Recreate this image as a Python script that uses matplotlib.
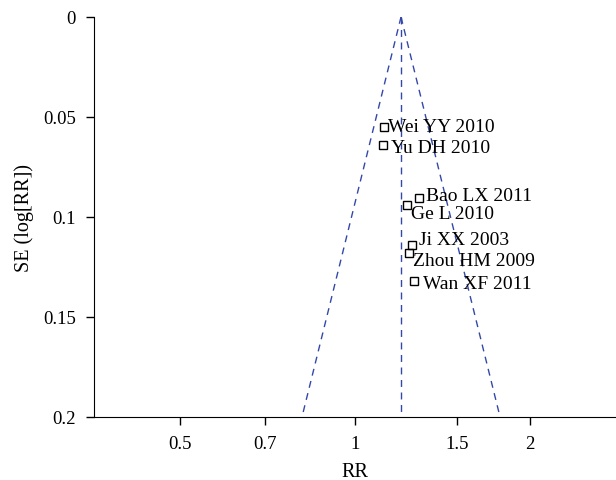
import numpy as np
import matplotlib
matplotlib.use("Agg")
import matplotlib.pyplot as plt
from matplotlib.ticker import FixedLocator, NullLocator

plt.rcParams['font.family'] = ['Liberation Serif', 'DejaVu Serif']

# study data
studies = ['Wei YY 2010', 'Yu DH 2010', 'Bao LX 2011', 'Ge L 2010',
           'Ji XX 2003', 'Zhou HM 2009', 'Wan XF 2011']
rr = [1.122, 1.116, 1.290, 1.227, 1.252, 1.237, 1.265]
se = [0.0549, 0.0638, 0.0907, 0.094, 0.1138, 0.1178, 0.1318]
# label offsets (points) relative to each marker
lab_dx = [3, 6, 5, 3, 5, 3, 6]
lab_dy = [0, -2, 2, -6, 4, -6, -2]

pooled = 1.20
se_max = 0.2
xticks = [0.5, 0.7, 1, 1.5, 2]
yticks = [0, 0.05, 0.1, 0.15, 0.2]

fig = plt.figure(figsize=(6.16, 4.81), dpi=100)
ax = fig.add_axes([0.1526, 0.131, 0.8474, 0.8316])

# funnel (pseudo 95% limits)
se_line = np.array([0, se_max])
lo = np.exp(np.log(pooled) - 1.96 * se_line)
hi = np.exp(np.log(pooled) + 1.96 * se_line)
blue = '#3348aa'
ax.plot(lo, se_line, color=blue, lw=1, ls=(0, (5, 4)))
ax.plot(hi, se_line, color=blue, lw=1, ls=(0, (5, 4)))
ax.plot([pooled, pooled], [0, se_max], color=blue, lw=1, ls=(0, (5, 4)))

ax.plot(rr, se, ls='none', marker='s', ms=5.5, mfc='none', mec='black', mew=1)
for name, x, y, dx, dy in zip(studies, rr, se, lab_dx, lab_dy):
    ax.annotate(name, (x, y), xytext=(dx, dy), textcoords='offset points',
                ha='left', va='center', fontsize=14)

ax.set_xscale('log')
ax.set_xlim(0.356, 2.81)
ax.set_ylim(se_max, 0)
ax.xaxis.set_major_locator(FixedLocator(xticks))
ax.xaxis.set_minor_locator(NullLocator())
ax.set_xticklabels(['0.5', '0.7', '1', '1.5', '2'])
ax.set_yticks(yticks)
ax.set_yticklabels(['0', '0.05', '0.1', '0.15', '0.2'])
ax.tick_params(axis='both', direction='out', length=6, width=1, labelsize=13.5, pad=7)
ax.spines['top'].set_visible(False)
ax.spines['right'].set_visible(False)
ax.set_xlabel('RR', fontsize=14.5)
ax.set_ylabel('SE (log[RR])', fontsize=14.5)
ax.xaxis.set_label_coords(0.5, -0.112)
ax.yaxis.set_label_coords(-0.115, 0.5)

fig.savefig('out.png', dpi=100)
